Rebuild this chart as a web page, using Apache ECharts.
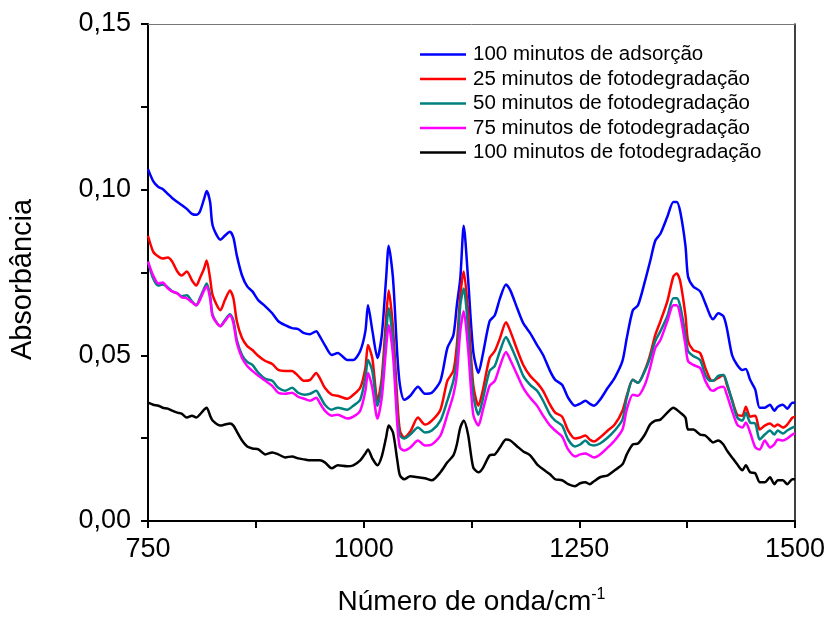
<!DOCTYPE html>
<html>
<head>
<meta charset="utf-8">
<script src="https://cdn.jsdelivr.net/npm/echarts@6/dist/echarts.min.js"></script>
<style>html,body{margin:0;padding:0;background:#fff}#c{width:830px;height:621px}</style>
</head>
<body>
<div id="c"></div>
<script>
const wavenumbers = [750,756,762,767,773,778,784,789,795,801,806,810,815,818,822,825,834,839,845,849,853,859,865,871,878,886,894,901,909,917,924,931,938,945,949,955,963,970,981,988,996,1002,1005,1010,1016,1021,1026,1029,1034,1039,1042,1047,1054,1063,1071,1079,1089,1097,1104,1108,1112,1116,1121,1127,1133,1138,1146,1152,1158,1165,1170,1178,1185,1193,1201,1208,1216,1222,1230,1237,1245,1251,1257,1262,1267,1274,1283,1291,1300,1305,1312,1318,1326,1332,1338,1344,1352,1359,1363,1367,1373,1376,1382,1390,1396,1402,1405,1411,1417,1421,1427,1433,1439,1443,1448,1454,1459,1465,1471,1476,1480,1486,1491,1497,1500];

const adsorcao100 = [0.1062,0.1026,0.1008,0.1002,0.0987,0.0975,0.0963,0.0954,0.0942,0.0927,
0.0924,0.0933,0.0972,0.0996,0.0963,0.0891,0.0849,0.0861,0.0873,0.0855,
0.0801,0.0741,0.0708,0.0693,0.0666,0.0648,0.0627,0.0603,0.0591,0.0582,
0.0579,0.0567,0.0564,0.0573,0.0558,0.0531,0.0501,0.0507,0.0486,0.0486,
0.0513,0.0573,0.0651,0.0576,0.0492,0.0561,0.0732,0.0831,0.0732,0.0501,
0.0411,0.0366,0.0378,0.0405,0.0384,0.0387,0.0423,0.0522,0.0561,0.0651,
0.0732,0.0891,0.0732,0.0513,0.0447,0.0501,0.0603,0.0621,0.0672,0.0714,
0.0696,0.0642,0.0597,0.0567,0.0531,0.0501,0.0453,0.0426,0.0411,0.0372,
0.0348,0.0354,0.0363,0.0354,0.0348,0.0366,0.0402,0.0432,0.0483,0.0552,
0.0636,0.0651,0.0723,0.0783,0.0846,0.0867,0.0918,0.0963,0.0963,0.0933,
0.0831,0.0738,0.0708,0.0693,0.0657,0.0618,0.0609,0.0627,0.0618,0.0582,
0.0501,0.0471,0.0456,0.0459,0.0426,0.0396,0.0342,0.0342,0.0351,0.0333,
0.0345,0.0351,0.0339,0.0357,0.0357];

const foto25 = [0.0861,0.0813,0.0798,0.0792,0.0795,0.0783,0.0753,0.0741,0.0753,0.0726,
0.0711,0.0732,0.0762,0.0786,0.0732,0.0681,0.0636,0.0666,0.0696,0.0672,
0.0603,0.0552,0.0528,0.0516,0.0498,0.0483,0.0474,0.0456,0.0453,0.0453,
0.0438,0.0423,0.0426,0.0447,0.0432,0.0402,0.0381,0.0378,0.0369,0.0381,
0.0402,0.0462,0.0531,0.0492,0.0363,0.0432,0.0612,0.0696,0.0582,0.0363,
0.0273,0.0252,0.0270,0.0312,0.0291,0.0303,0.0336,0.0423,0.0453,0.0531,
0.0681,0.0753,0.0633,0.0411,0.0348,0.0393,0.0492,0.0513,0.0552,0.0600,
0.0573,0.0516,0.0471,0.0438,0.0417,0.0393,0.0351,0.0327,0.0315,0.0273,
0.0249,0.0252,0.0258,0.0246,0.0240,0.0252,0.0273,0.0291,0.0333,0.0378,
0.0426,0.0417,0.0456,0.0501,0.0561,0.0603,0.0663,0.0738,0.0747,0.0723,
0.0621,0.0543,0.0516,0.0507,0.0462,0.0426,0.0423,0.0432,0.0441,0.0411,
0.0366,0.0321,0.0318,0.0345,0.0315,0.0318,0.0276,0.0288,0.0294,0.0285,
0.0291,0.0282,0.0291,0.0312,0.0315];

const foto50 = [0.0783,0.0732,0.0711,0.0714,0.0705,0.0693,0.0687,0.0678,0.0681,0.0663,
0.0651,0.0672,0.0702,0.0717,0.0681,0.0621,0.0588,0.0606,0.0624,0.0606,
0.0546,0.0501,0.0480,0.0471,0.0447,0.0429,0.0423,0.0402,0.0393,0.0402,
0.0387,0.0381,0.0384,0.0393,0.0378,0.0351,0.0336,0.0342,0.0336,0.0348,
0.0366,0.0432,0.0486,0.0453,0.0348,0.0411,0.0567,0.0642,0.0543,0.0321,
0.0258,0.0249,0.0261,0.0282,0.0267,0.0273,0.0303,0.0363,0.0423,0.0483,
0.0651,0.0702,0.0582,0.0381,0.0321,0.0366,0.0453,0.0468,0.0513,0.0555,
0.0531,0.0483,0.0438,0.0411,0.0393,0.0363,0.0321,0.0303,0.0288,0.0246,
0.0225,0.0231,0.0243,0.0231,0.0228,0.0234,0.0252,0.0273,0.0306,0.0372,
0.0426,0.0417,0.0453,0.0492,0.0543,0.0573,0.0618,0.0672,0.0672,0.0648,
0.0561,0.0513,0.0498,0.0486,0.0441,0.0423,0.0423,0.0438,0.0441,0.0417,
0.0363,0.0312,0.0303,0.0327,0.0297,0.0294,0.0246,0.0261,0.0273,0.0261,
0.0273,0.0264,0.0273,0.0282,0.0285];

const foto75 = [0.0783,0.0741,0.0717,0.0720,0.0702,0.0693,0.0687,0.0675,0.0672,0.0660,
0.0651,0.0666,0.0696,0.0708,0.0672,0.0618,0.0588,0.0603,0.0621,0.0597,
0.0537,0.0492,0.0468,0.0453,0.0438,0.0423,0.0408,0.0387,0.0384,0.0387,
0.0375,0.0369,0.0363,0.0372,0.0357,0.0333,0.0318,0.0321,0.0309,0.0315,
0.0333,0.0393,0.0447,0.0402,0.0309,0.0372,0.0522,0.0591,0.0501,0.0291,
0.0222,0.0213,0.0222,0.0243,0.0228,0.0231,0.0258,0.0321,0.0381,0.0441,
0.0573,0.0633,0.0522,0.0321,0.0288,0.0333,0.0408,0.0423,0.0468,0.0510,
0.0486,0.0441,0.0402,0.0372,0.0348,0.0318,0.0288,0.0273,0.0255,0.0216,
0.0195,0.0201,0.0204,0.0198,0.0192,0.0201,0.0222,0.0243,0.0276,0.0336,
0.0381,0.0378,0.0411,0.0462,0.0522,0.0546,0.0603,0.0651,0.0651,0.0621,
0.0531,0.0483,0.0471,0.0462,0.0423,0.0396,0.0393,0.0402,0.0405,0.0381,
0.0333,0.0291,0.0282,0.0297,0.0267,0.0222,0.0216,0.0243,0.0222,0.0231,
0.0246,0.0243,0.0249,0.0261,0.0264];

const foto100 = [0.0357,0.0351,0.0348,0.0342,0.0339,0.0333,0.0327,0.0324,0.0312,0.0318,
0.0312,0.0321,0.0336,0.0342,0.0318,0.0303,0.0288,0.0291,0.0294,0.0288,
0.0270,0.0243,0.0225,0.0219,0.0216,0.0201,0.0207,0.0201,0.0192,0.0195,
0.0189,0.0186,0.0183,0.0183,0.0183,0.0177,0.0159,0.0168,0.0165,0.0168,
0.0183,0.0204,0.0216,0.0189,0.0168,0.0195,0.0252,0.0288,0.0267,0.0183,
0.0138,0.0126,0.0135,0.0132,0.0129,0.0123,0.0147,0.0177,0.0198,0.0231,
0.0282,0.0303,0.0261,0.0162,0.0147,0.0159,0.0198,0.0201,0.0222,0.0246,
0.0243,0.0225,0.0210,0.0198,0.0171,0.0156,0.0141,0.0126,0.0123,0.0111,
0.0105,0.0114,0.0117,0.0111,0.0120,0.0132,0.0138,0.0153,0.0171,0.0201,
0.0231,0.0234,0.0261,0.0291,0.0303,0.0306,0.0327,0.0342,0.0336,0.0327,
0.0312,0.0276,0.0276,0.0261,0.0258,0.0243,0.0237,0.0243,0.0231,0.0213,
0.0192,0.0171,0.0153,0.0168,0.0147,0.0144,0.0117,0.0117,0.0132,0.0111,
0.0123,0.0123,0.0111,0.0126,0.0126];

const seriesNames = ['100 minutos de adsorção','25 minutos de fotodegradação','50 minutos de fotodegradação','75 minutos de fotodegradação','100 minutos de fotodegradação'];
const seriesValues = [adsorcao100, foto25, foto50, foto75, foto100];
const seriesColors = ['#0000ff','#ff0000','#008080','#ff00ff','#000000'];

const FONT = "'Liberation Sans', Arial, sans-serif";
const chart = echarts.init(document.getElementById('c'), null, {renderer:'canvas'});

const series = seriesNames.map((name, i) => ({
  name: name,
  type: 'line',
  symbol: 'none',
  smooth: 0.25,
  data: wavenumbers.map((w, j) => [w, seriesValues[i][j]]),
  lineStyle: {color: seriesColors[i], width: 2.5},
  itemStyle: {color: seriesColors[i]},
  animation: false,
  xAxisIndex: 0, yAxisIndex: 0
}));

chart.setOption({
  backgroundColor: '#fff',
  animation: false,
  grid: {left: 148, right: 35, top: 24, bottom: 97, containLabel: false},
  legend: {
    orient: 'vertical',
    left: 415, top: 39,
    itemWidth: 46, itemHeight: 12, itemGap: 3.5,
    icon: 'path://M0,0 L46,0 L46,2.5 L0,2.5 Z',
    textStyle: {fontFamily: FONT, fontSize: 20.5, color: '#000', padding: [0,0,0,2]},
    data: seriesNames
  },
  xAxis: [{
    type: 'value', min: 750, max: 1500, interval: 125,
    name: 'Número de onda/cm{sup|-1}',
    nameLocation: 'middle', nameGap: 66,
    nameTextStyle: {fontFamily: FONT, fontSize: 28, color: '#000',
      rich: {sup: {fontFamily: FONT, fontSize: 16, color: '#000', verticalAlign: 'top', padding: [0,0,14,0]}}},
    axisLine: {show: true, lineStyle: {color: '#000', width: 2}},
    axisTick: {show: true, inside: false, length: 7, lineStyle: {color: '#000', width: 2}},
    axisLabel: {fontFamily: FONT, fontSize: 27, color: '#000', margin: 15,
      formatter: v => (Math.round(v) % 250 === 0 ? String(Math.round(v)) : '')},
    splitLine: {show: false}
  }, {
    type: 'value', min: 750, max: 1500, position: 'top',
    axisLine: {show: true, onZero: false, lineStyle: {color: '#777', width: 1}},
    axisTick: {show: false}, axisLabel: {show: false}, splitLine: {show: false}
  }],
  yAxis: [{
    type: 'value', min: 0, max: 0.15, interval: 0.025,
    name: 'Absorbância', nameLocation: 'middle', nameGap: 111,
    nameTextStyle: {fontFamily: FONT, fontSize: 29, color: '#000', padding: [0,14,0,0]},
    axisLine: {show: true, lineStyle: {color: '#000', width: 2}},
    axisTick: {show: true, inside: false, length: 7, lineStyle: {color: '#000', width: 2}},
    axisLabel: {fontFamily: FONT, fontSize: 27, color: '#000', margin: 17,
      formatter: v => (Math.round(v * 1000) % 50 === 0 ? v.toFixed(2).replace('.', ',') : '')},
    splitLine: {show: false}
  }, {
    type: 'value', min: 0, max: 0.15, position: 'right',
    axisLine: {show: true, onZero: false, lineStyle: {color: '#000', width: 1.5}},
    axisTick: {show: false}, axisLabel: {show: false}, splitLine: {show: false}
  }],
  series: series
});
</script>
</body>
</html>
